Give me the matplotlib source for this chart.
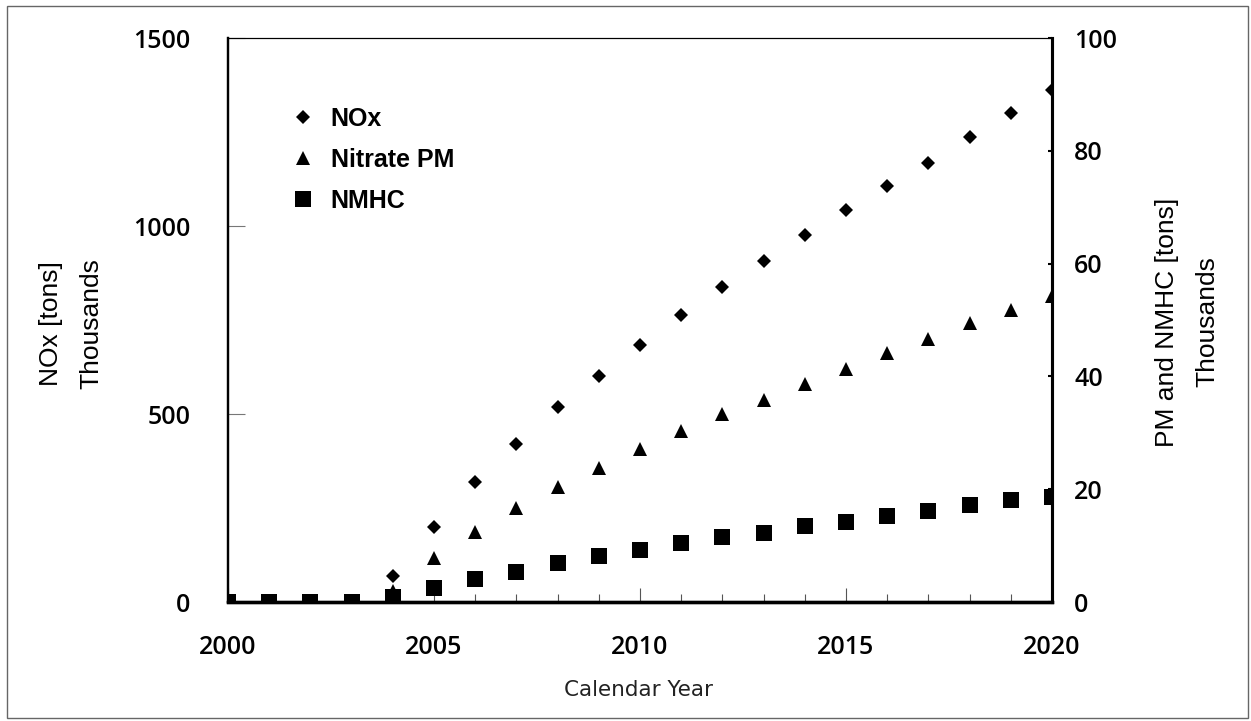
import matplotlib
matplotlib.use("Agg")
import matplotlib.pyplot as plt
from matplotlib.font_manager import FontProperties
from matplotlib.patches import Rectangle
from matplotlib.ticker import MultipleLocator

# annual emission reductions, 2000-2020 (thousands of tons)
years = list(range(2000, 2021))
nox = [0, 0, 0, 0, 68, 200, 318, 421, 518, 602, 683, 763, 837, 906, 975,
       1043, 1107, 1168, 1237, 1301, 1363]
nitrate_pm = [0, 0, 0, 0, 2.0, 7.8, 12.4, 16.6, 20.4, 23.8, 27.2, 30.3, 33.3,
              35.9, 38.7, 41.3, 44.1, 46.7, 49.4, 51.7, 54.3]
nmhc = [0, 0, 0, 0, 0.8, 2.4, 4.0, 5.4, 6.9, 8.1, 9.2, 10.4, 11.5, 12.2, 13.4,
        14.1, 15.3, 16.1, 17.2, 18.0, 18.7]

TICK_FONT = FontProperties(family=["Open Sans", "DejaVu Sans"], weight=600, size=18)
LABEL_FONT = dict(family=["Liberation Sans", "DejaVu Sans"], size=19)

W, H = 1251, 721
fig = plt.figure(figsize=(W / 100, H / 100), dpi=100)
ax = fig.add_axes([228 / W, 1 - 602 / H, (1052 - 228) / W, (602 - 38) / H])
ax2 = ax.twinx()

h1, = ax.plot(years, nox, ls="none", marker="D", ms=7.2, color="black", mew=0, label="NOx")
h2, = ax2.plot(years, nitrate_pm, ls="none", marker="^", ms=10.5, color="black", mew=0,
               label="Nitrate PM")
h3, = ax2.plot(years, nmhc, ls="none", marker="s", ms=12, color="black", mew=0, label="NMHC")

ax.set_xlim(2000, 2020)
ax.set_ylim(0, 1500)
ax2.set_ylim(0, 100)

ax.xaxis.set_major_locator(MultipleLocator(5))
ax.xaxis.set_minor_locator(MultipleLocator(1))
ax.yaxis.set_major_locator(MultipleLocator(500))
ax2.yaxis.set_major_locator(MultipleLocator(20))

ax.tick_params(axis="x", which="major", direction="in", length=10, width=0.8,
               color="#555555", pad=24)
ax.tick_params(axis="x", which="minor", direction="in", length=6, width=0.8,
               color="#555555")
ax.tick_params(axis="y", which="major", direction="in", length=12, width=0.8,
               color="#777777", pad=27)
ax2.tick_params(axis="y", which="major", direction="in", length=3, width=1.5,
                color="black", pad=16)

for lbl in ax.get_xticklabels() + ax.get_yticklabels() + ax2.get_yticklabels():
    lbl.set_fontproperties(TICK_FONT)

for a in (ax, ax2):
    a.spines["top"].set_linewidth(0.8)
    a.spines["left"].set_linewidth(1.6)
    a.spines["bottom"].set_linewidth(2.4)
    a.spines["right"].set_linewidth(2.2)

# axis titles
fig.text(71 / W, 1 - 324 / H, "NOx [tons]\nThousands", rotation=90, ha="center",
         va="center", multialignment="center", linespacing=1.85, **LABEL_FONT)
fig.text(1187 / W, 1 - 322 / H, "PM and NMHC [tons]\nThousands", rotation=90,
         ha="center", va="center", multialignment="center", linespacing=1.85,
         **LABEL_FONT)
fig.text(638 / W, 1 - 690 / H, "Calendar Year", ha="center", va="center",
         family=["DejaVu Sans"], size=15.5, color="#222222")

ax2.legend(handles=[h1, h2, h3], loc="upper left",
           bbox_to_anchor=((287 - 228) / 824, (602 - 107) / 564),
           frameon=False, borderpad=0, borderaxespad=0, handlelength=1.25,
           handletextpad=0.5, labelspacing=0.68,
           prop=dict(family=["Liberation Sans", "DejaVu Sans"], weight="bold", size=18))

# thin frame round the whole chart
fig.patches.append(Rectangle((7 / W, 3 / H), (1248 - 7) / W, (715 - 3) / H,
                             transform=fig.transFigure, fill=False,
                             edgecolor="#666666", linewidth=1.0))

fig.savefig("out.png", dpi=100)
